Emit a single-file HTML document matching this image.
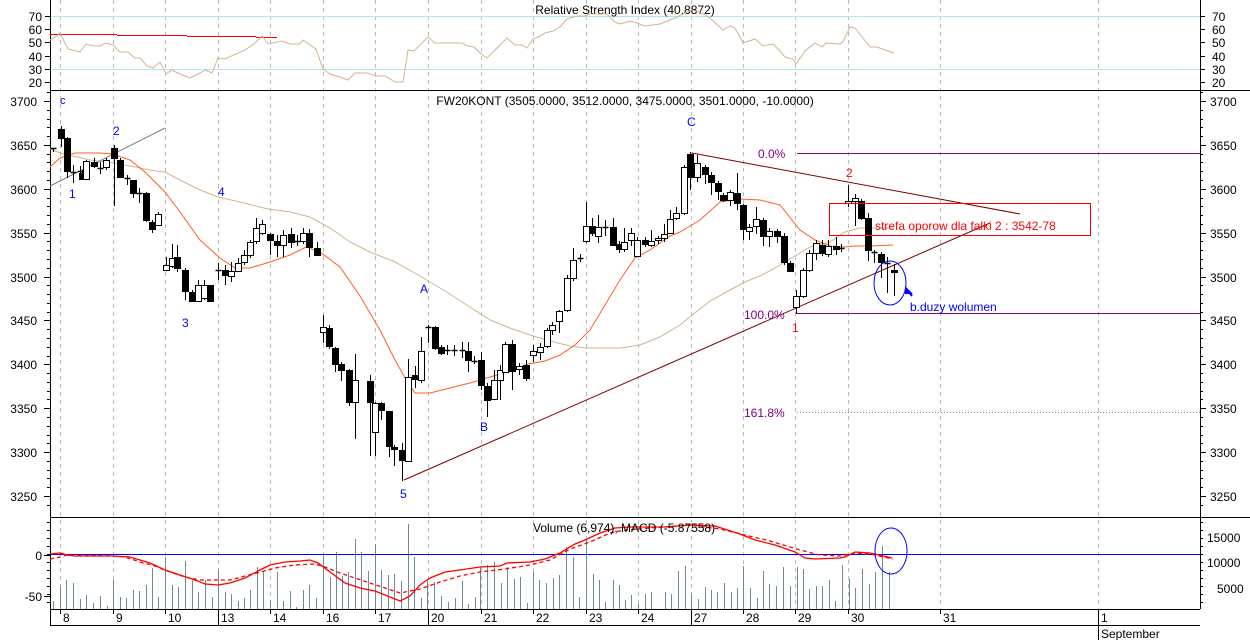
<!DOCTYPE html><html><head><meta charset="utf-8"><style>
html,body{margin:0;padding:0;background:#fff;}
svg{display:block;font-family:"Liberation Sans",sans-serif;}
</style></head><body>
<svg id="s" width="1250" height="640" viewBox="0 0 1250 640" xmlns="http://www.w3.org/2000/svg"></svg>
<script>
var S=document.getElementById('s'),h='';
function L(x1,y1,x2,y2,c,w,d){h+='<line x1="'+x1+'" y1="'+y1+'" x2="'+x2+'" y2="'+y2+'" stroke="'+c+'" stroke-width="'+(w||1)+'"'+(d?' stroke-dasharray="'+d+'"':'')+'/>';}
function T(x,y,t,c,a,fs){h+='<text x="'+x+'" y="'+y+'" fill="'+(c||'#000')+'" font-size="'+(fs||12)+'"'+(a?' text-anchor="'+a+'"':'')+'>'+t+'</text>';}
function P(pts,c,w,d){h+='<polyline fill="none" stroke="'+c+'" stroke-width="'+(w||1)+'"'+(d?' stroke-dasharray="'+d+'"':'')+' points="'+pts.map(function(p){return p[0]+','+p[1]}).join(' ')+'"/>';}
// grid
var gx=[60,113,165,218,270,323,375,428,481,533,586,638,691,743,795,848,940,1098];
gx.forEach(function(x){L(x+.5,0,x+.5,609,'#bbb',1,'4,4');});
// cyan RSI
L(50,16.5,1200,16.5,'#a8e8ee');L(50,69.5,1200,69.5,'#a8e8ee');
// separators
L(50,90.5,1250,90.5,'#000');L(50,517.5,1250,517.5,'#000');L(50,609.5,1200,609.5,'#000');L(50,625.5,1200,625.5,'#000');
L(50.5,0,50.5,625,'#000');L(1200.5,0,1200.5,609,'#000');
// left/right ticks and labels
[[70,16],[60,29],[50,42],[40,56],[30,69],[20,82]].forEach(function(a){T(42,a[1]+5,a[0],'#000','end');T(1212,a[1]+5,a[0]);L(45,a[1]+.5,50,a[1]+.5,'#000');L(1200,a[1]+.5,1205,a[1]+.5,'#000');});
for(var p=3700;p>=3250;p-=50){var y=Math.round(101+(3700-p)*0.8778);T(37,y+5,p,'#000','end');T(1210,y+5,p);L(44,y+.5,50,y+.5,'#000');L(1200,y+.5,1206,y+.5,'#000');}
for(var p=3710;p>=3240;p-=10){var y=Math.round(101+(3700-p)*0.8778);L(47,y+.5,50,y+.5,'#000');L(1200,y+.5,1203,y+.5,'#000');}
T(42,560,'0','#000','end');T(42,601,'-50','#000','end');L(44,555.5,50,555.5,'#000');L(44,596.5,50,596.5,'#000');
for(var y=522;y<609;y+=8){L(47,y+.5,50,y+.5,'#000');L(1200,y+.5,1203,y+.5,'#000');}
T(1207,542,'15000');T(1207,567,'10000');T(1217,593,'5000');
// dates
var dl=[[60,'8'],[113,'9'],[165,'10'],[218,'13'],[270,'14'],[323,'16'],[375,'17'],[428,'20'],[481,'21'],[533,'22'],[586,'23'],[638,'24'],[691,'27'],[743,'28'],[795,'29'],[848,'30'],[940,'31'],[1098,'1']];
var wk={218:1,428:1,691:1,1098:1};
dl.forEach(function(d){L(d[0]+.5,609,d[0]+.5,wk[d[0]]?625:614,'#000');T(d[0]+3,622,d[1]);});
L(1098.5,625,1098.5,640,'#000');T(1101,638,'September');
// titles
T(625,14,'Relative Strength Index (40.8872)','#000','middle');
T(625,105,'FW20KONT (3505.0000, 3512.0000, 3475.0000, 3501.0000, -10.0000)','#000','middle');
// RSI
L(50,34.5,117,34.5,'#f00');L(117,35.5,187,35.5,'#f00');L(187,36.5,256,36.5,'#f00');L(256,37.5,277,37.5,'#f00');
P([[50,40],[54,38],[60,33],[68,49],[80,52],[86,44],[95,46],[100,46],[106,43],[113,45],[120,52],[128,52],[135,58],[140,58],[147,66],[153,68],[160,62],[166,74],[172,70],[180,74],[190,78],[200,73],[205,70],[212,73],[218,58],[225,59],[245,50],[255,43],[262,36],[268,44],[273,43],[282,41],[290,44],[300,44],[303,40],[316,49],[323,69],[330,74],[340,77],[348,80],[355,73],[368,73],[375,76],[385,76],[395,82],[403,82],[408,50],[414,51],[428,37],[435,43],[445,43],[462,43],[468,46],[474,47],[480,53],[487,58],[497,48],[507,38],[515,45],[522,45],[527,48],[533,39],[540,36],[545,33],[553,31],[560,27],[567,19],[577,16],[585,16],[590,14],[607,14],[615,22],[620,24],[630,21],[637,23],[645,26],[660,24],[675,18],[685,13],[692,10],[700,12],[710,18],[723,30],[730,26],[735,28],[743,43],[755,39],[763,46],[773,44],[780,51],[785,57],[793,59],[796,64],[805,51],[815,43],[822,47],[826,43],[840,44],[843,42],[850,27],[855,28],[870,47],[877,47],[885,50],[894,53]],'#d2b48c');
// MAs
P([[50,149],[60,153],[90,160],[113,163],[130,166],[150,170],[165,172],[180,180],[200,190],[218,197],[240,202],[268,209],[290,212],[310,217],[330,228],[350,242],[370,252],[395,262],[420,276],[445,291],[470,307],[490,320],[510,328],[530,335],[550,341],[570,346],[585,348],[620,348],[640,345],[660,337],[680,325],[695,313],[710,301],[730,290],[745,282],[760,276],[775,268],[790,259],[810,247],[830,242],[845,232],[860,228],[893,228]],'#d2b48c');
P([[50,167],[60,158],[75,153],[100,153],[112,154],[130,160],[145,172],[165,192],[180,212],[200,240],[220,258],[235,268],[250,268],[270,262],[290,255],[306,247],[320,252],[340,267],[360,296],[380,330],[395,360],[405,378],[415,393],[430,393],[450,388],[470,383],[490,377],[510,371],[528,364],[545,361],[560,355],[575,345],[590,330],[605,305],[620,280],[635,258],[650,250],[670,236],[680,232],[700,220],[720,202],[740,199],[760,200],[780,205],[800,230],[815,240],[830,246],[845,247],[855,246],[870,246],[893,245]],'#ff6020');
// trend lines
L(50,186,165,128,'#808080');
L(692,153,1020,214,'#800000');L(404,480,990,223,'#800000');
L(797,153.5,1200,153.5,'#800080');L(797,313.5,1200,313.5,'#800080');L(797,412.5,1200,412.5,'#888',1,'1,2');
T(758,158,'0.0%','#800080');T(744,319,'100.0%','#800080');T(744,417,'161.8%','#800080');
// candles
var C=[[53,149,148,150,152,2],[61,126,129,138,147,1],[67,137,138,171,178,1],[73,165,172,172,183,2],[80,166,171,171,178,2],[82,170,173,179,180,1],[86,160,161,179,180,0],[94,158,162,166,168,1],[100,162,168,168,174,2],[106,158,160,167,170,0],[114,145,148,158,206,1],[120,158,160,177,178,1],[127,175,178,178,185,2],[133,180,180,193,198,1],[139,188,193,193,203,2],[146,192,193,220,222,1],[152,220,222,229,233,1],[158,212,214,225,226,0],
[166,257,265,270,271,0],[172,244,258,266,268,0],[177,245,257,268,272,1],[185,268,270,291,300,1],[192,290,292,301,302,1],[198,280,285,301,302,0],[204,280,285,298,300,0],[210,285,285,301,301,1],
[218,263,270,270,280,2],[225,265,270,275,285,1],[231,262,271,276,282,0],[238,258,263,271,272,0],[244,250,255,262,265,0],[250,240,242,255,258,0],[256,218,228,241,244,0],[262,220,224,233,235,0],[270,233,234,240,255,1],[277,235,241,245,257,1],[283,230,235,245,257,0],[291,228,234,242,248,1],[297,235,241,241,246,2],[303,228,233,241,244,0],[309,229,233,247,257,1],[317,242,248,255,256,1],
[323,315,327,332,343,0],[329,325,328,346,349,1],[335,347,348,364,372,1],[341,362,364,370,381,1],[349,369,370,402,406,1],[355,354,380,402,439,0],[370,375,381,402,456,1],[375,402,403,432,456,0],[381,402,403,410,420,1],[389,411,411,446,457,1],[394,445,447,449,466,1],[402,443,450,460,481,1],[408,359,377,461,461,0],[415,366,375,379,388,1],[421,337,351,380,383,0],[428,325,327,328,343,2],[435,326,327,348,350,1],[441,345,347,353,355,1],[447,345,350,350,355,2],[454,345,350,350,356,2],[462,342,350,350,358,2],[468,342,351,360,372,1],[474,356,361,361,364,2],[481,352,360,385,390,1],[487,383,386,400,417,1],[494,370,380,399,400,0],[500,365,370,380,400,0],[505,342,344,372,373,0],[512,340,344,371,390,1],[519,363,366,369,375,0],[526,360,365,378,381,1],
[533,345,351,355,362,0],[540,343,347,352,360,0],[547,328,330,346,348,0],[552,322,325,330,335,0],[559,310,311,321,333,0],[567,275,278,310,312,0],[573,248,260,278,281,0],[580,254,258,258,262,2],[586,202,226,241,243,0],[592,218,226,233,236,1],[598,215,227,236,243,0],[605,220,227,227,236,2],[613,218,227,245,246,1],[619,241,244,249,253,1],[624,228,242,249,252,0],[631,228,233,240,246,0],[637,237,240,256,257,0],[645,237,240,244,247,1],[651,230,241,245,247,0],[658,236,238,240,244,0],[664,224,234,238,242,0],[670,210,219,233,233,0],[676,207,213,218,220,0],[684,165,167,213,215,0],
[690,152,154,177,190,1],[697,155,163,177,182,0],[705,165,167,174,184,1],[711,172,175,182,195,1],[718,181,183,191,200,1],[723,193,195,200,202,1],[730,190,192,200,206,0],[737,173,193,203,210,1],[743,204,205,229,240,1],[749,224,227,231,240,0],[756,207,219,226,234,0],[763,218,220,236,246,1],[769,228,231,236,247,0],[777,229,231,236,243,1],[784,233,236,262,265,1],[790,261,263,271,272,1],
[796,290,296,307,314,0],[803,268,270,296,298,0],[809,250,253,270,272,0],[816,240,243,253,260,0],[822,240,245,253,256,1],[828,240,246,254,257,0],[836,237,246,249,255,1],[841,244,248,248,252,2],
[848,185,201,203,207,0],[855,194,198,201,226,0],[861,199,201,218,220,1],[868,213,218,250,261,1],[874,250,252,252,263,2],[881,252,254,262,278,1],[887,257,263,263,293,2],[894,264,270,272,296,1]];
C.forEach(function(c){var x=c[0]+.5;L(x,c[1],x,c[4],'#000');
 if(c[5]==2){L(x-3,c[2]+.5,x+3,c[2]+.5,'#000',1.5);}
 else h+='<rect x="'+(c[0]-2.5)+'" y="'+c[2]+'.5" width="6" height="'+Math.max(1,c[3]-c[2])+'" fill="'+(c[5]?'#000':'#fff')+'" stroke="#000"/>';});
// labels
T(60,104,'c','#00f',0,11);T(69,198,'1','#00f');T(113,135,'2','#00f');T(182,327,'3','#00f');T(218,196,'4','#00f');T(400,498,'5','#00f');T(420,293,'A','#00f');T(480,431,'B','#00f');T(687,126,'C','#00f');
T(846,177,'2','#f00');T(792,332,'1','#f00');
h+='<rect x="829.5" y="203.5" width="261" height="32" fill="none" stroke="#f00"/>';
T(875,230,'strefa oporow dla falki 2 : 3542-78','#f00');
h+='<ellipse cx="890" cy="283" rx="16" ry="22" fill="none" stroke="#00f"/>';
h+='<polygon points="905,286 905,294 913,294" fill="#00f"/>';L(907,290,912,296,'#00f',2);
T(910,311,'b.duzy wolumen','#00f');
// volume
var V=[[53,601],[60,586],[66,580],[73,583],[80,599],[86,595],[93,603],[100,596],[107,606],[113,580],[120,597],[126,598],[133,590],[139,591],[146,585],[152,568],[158,597],[165,557],[172,585],[178,587],[185,561],[192,580],[198,592],[205,580],[212,597],[218,570],[225,592],[231,594],[238,601],[244,598],[250,590],[257,567],[263,571],[270,600],[277,572],[283,601],[290,591],[296,607],[303,590],[309,585],[316,598],[323,553],[330,577],[336,552],[342,576],[348,572],[355,539],[361,552],[368,571],[375,544],[381,570],[388,575],[394,574],[401,581],[408,524],[414,557],[421,598],[427,581],[434,582],[441,596],[448,602],[455,598],[462,581],[468,604],[475,597]];
var zx=[0,22,42,62,82,102,120,140,158,178,198,218,238,258,278,298,318,338,358,376,398,418,434,454,474,494,514,554,574,594,614,634,654,674,694,712,732,752,770,790,810,830,850,868,888,910,930,950,968,988,1008,1026,1046,1066,1086,1106,1126,1146,1166,1186,1206,1226,1244];
var zy=[155,150,142,205,155,192,186,265,170,195,205,188,180,95,125,245,75,178,195,262,195,210,255,240,268,238,232,232,238,168,152,237,252,215,225,230,205,232,218,152,220,248,168,208,213,157,213,155,162,222,213,213,195,258,150,192,218,162,208,172,92,172];
for(var i=0;i<zy.length;i++){V.push([Math.round(480+zx[i]/3),Math.round(515+zy[i]/3)]);}
V.forEach(function(v){L(v[0]+.5,v[1],v[0]+.5,609,'#6f8a94');});
L(50,554.5,1200,554.5,'#00f');
P([[50,554],[60,553],[67,555],[75,556],[113,556],[130,557],[140,560],[150,563],[165,570],[180,575],[195,580],[205,584],[218,585],[230,583],[245,578],[260,570],[270,565],[285,562],[300,561],[310,560],[318,563],[330,572],[345,583],[360,588],[375,591],[390,597],[400,601],[410,596],[420,585],[430,578],[445,572],[460,570],[480,567],[500,566],[507,563],[530,562],[545,559],[560,553],[575,544],[585,540],[600,533],[615,528],[630,527],[665,527],[690,525],[715,526],[740,534],[755,540],[775,545],[795,552],[805,558],[815,559],[840,558],[845,557],[855,552],[870,553],[875,554],[892,558]],'#f00',1.3);
P([[50,559],[60,557],[67,555],[113,556],[125,557],[140,562],[155,566],[170,572],[185,577],[200,580],[230,580],[245,576],[257,573],[275,568],[295,565],[315,564],[325,567],[340,573],[355,578],[370,583],[385,588],[400,593],[420,589],[440,582],[460,576],[480,572],[505,569],[530,565],[550,560],[570,549],[590,542],[610,533],[625,530],[650,528],[690,525],[720,529],[745,535],[770,541],[800,550],[820,555],[840,556],[855,553],[870,554],[893,559]],'#f00',1.3,'4,3');
T(533,532,'Volume (6,974), MACD (-5.87558)','#000');
h+='<ellipse cx="891" cy="551" rx="16" ry="23" fill="none" stroke="#00f"/>';
S.innerHTML=h;
</script>
</body></html>
